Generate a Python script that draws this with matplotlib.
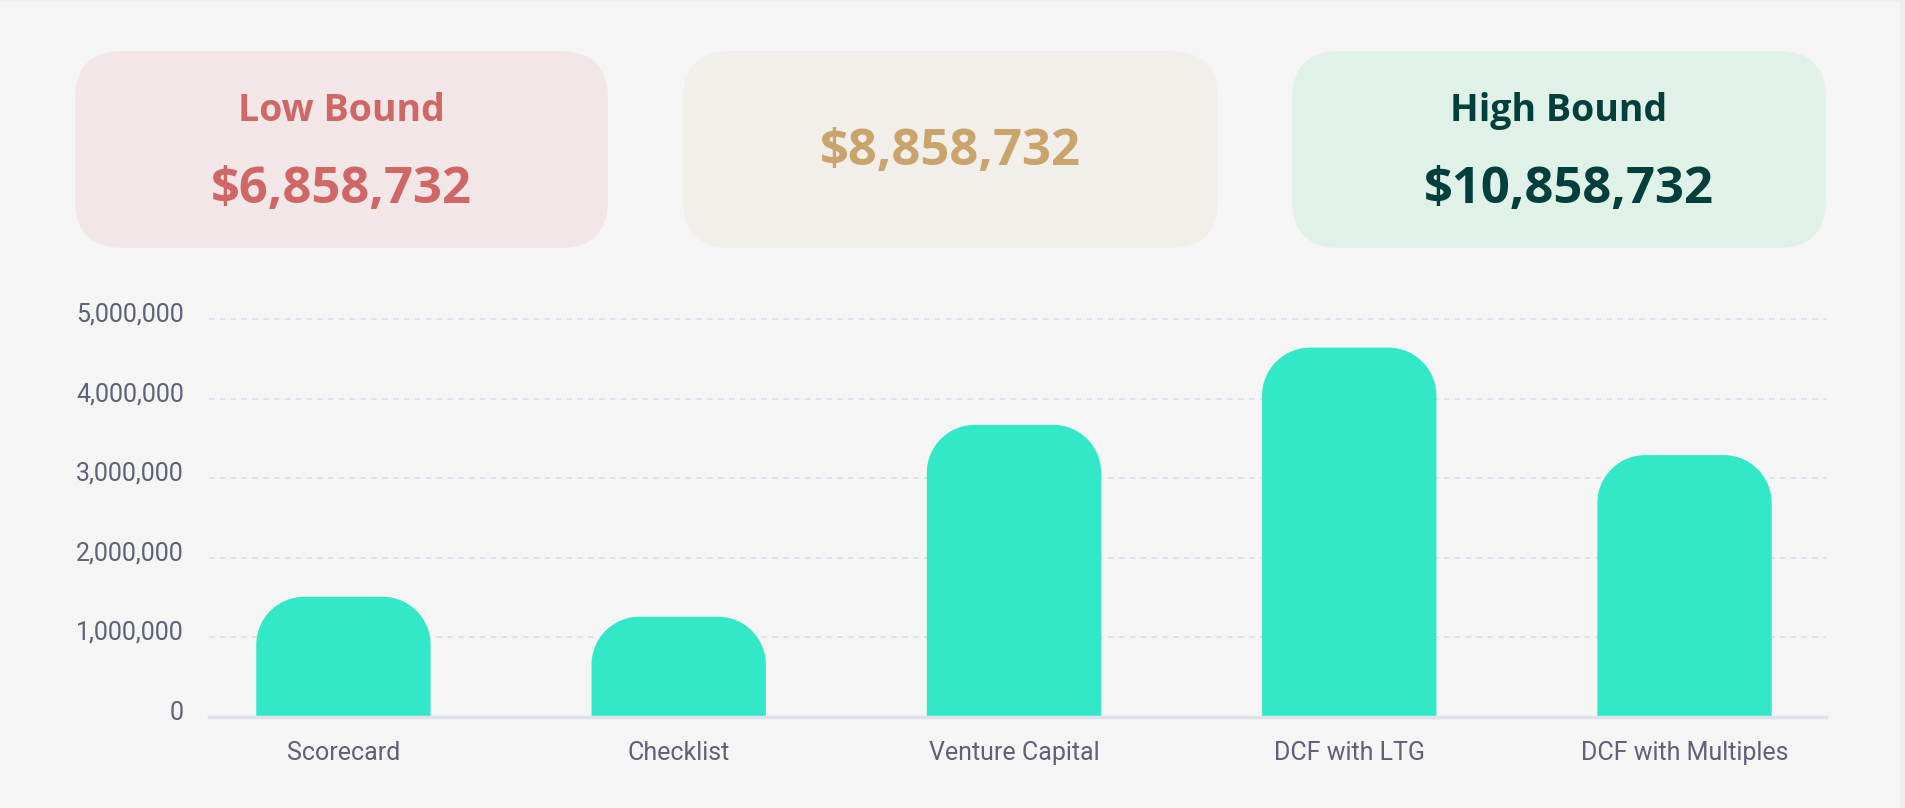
import matplotlib
matplotlib.use("Agg")
import matplotlib.pyplot as plt
from matplotlib.patches import FancyBboxPatch, PathPatch, Rectangle
from matplotlib.path import Path
from matplotlib.ticker import FuncFormatter
import matplotlib.transforms as mtransforms

# data
methods = ["Scorecard", "Checklist", "Venture Capital", "DCF with LTG", "DCF with Multiples"]
valuations = [1510000, 1260000, 3670000, 4640000, 3290000]
yticks = [0, 1000000, 2000000, 3000000, 4000000, 5000000]

card_titles = ["Low Bound", "", "High Bound"]
card_values = ["$6,858,732", "$8,858,732", "$10,858,732"]

bg = "#F5F5F6"
bar_col = "#33E8C6"
lab_col = "#5E6177"
card_bg = ["#F3E6E6", "#F2EFEA", "#E0F2E8"]
card_fg = ["#D06767", "#C9A46C", "#003F3B"]

W, H = 1906, 808
fig = plt.figure(figsize=(W / 100, H / 100), dpi=100)
fig.patch.set_facecolor(bg)

# overlay axes in pixel units for the cards
top = fig.add_axes([0, 0, 1, 1])
top.set_xlim(0, W)
top.set_ylim(H, 0)
top.axis("off")
top.add_patch(Rectangle((1900, 0), 6, H, facecolor="#EDEEF0", edgecolor="none"))
top.add_patch(Rectangle((0, 0), W, 2, facecolor="#EDEEF0", edgecolor="none"))

cards_px = [(75, 608), (683, 1218), (1292, 1826)]
val_shift = [0, 0, 10]
top_px, bot_px = 51, 248
for i, (x0, x1) in enumerate(cards_px):
    box = FancyBboxPatch((x0, top_px), x1 - x0, bot_px - top_px,
                         boxstyle="round,pad=0,rounding_size=48",
                         facecolor=card_bg[i], edgecolor="none")
    top.add_patch(box)
    cx = (x0 + x1) / 2
    if card_titles[i]:
        top.text(cx, 111, card_titles[i], ha="center", va="center",
                 fontsize=27, fontweight="bold", family="Open Sans", color=card_fg[i])
        top.text(cx + val_shift[i], 190, card_values[i], ha="center", va="center",
                 fontsize=36.5, fontweight="bold", family="Open Sans", color=card_fg[i])
    else:
        top.text(cx, 152, card_values[i], ha="center", va="center",
                 fontsize=36.5, fontweight="bold", family="Open Sans", color=card_fg[i])

# bar chart
ax = fig.add_axes([209 / W, 91 / H, (1826 - 209) / W, (717 - 311) / H])
ax.set_facecolor("none")
x = list(range(len(methods)))
ax.set_xlim(-0.401, 4.422)
ax.set_ylim(0, 5100000)

bars = ax.bar(x, valuations, width=0.52, color=bar_col, zorder=3)

# swap the plain rectangles for ones with rounded tops
fig.canvas.draw()
p0 = ax.transData.transform((0, 0))
p1 = ax.transData.transform((1, 1000000))
px_x = p1[0] - p0[0]
px_y = (p1[1] - p0[1]) / 1000000
rad = 48
for b in bars:
    bx, bw, bh = b.get_x(), b.get_width(), b.get_height()
    rx = rad / px_x
    ry = rad / px_y
    k = 0.5523
    verts = [(bx, 0), (bx, bh - ry),
             (bx, bh - ry + k * ry), (bx + rx - k * rx, bh), (bx + rx, bh),
             (bx + bw - rx, bh),
             (bx + bw - rx + k * rx, bh), (bx + bw, bh - ry + k * ry), (bx + bw, bh - ry),
             (bx + bw, 0), (bx, 0)]
    codes = [Path.MOVETO, Path.LINETO,
             Path.CURVE4, Path.CURVE4, Path.CURVE4,
             Path.LINETO,
             Path.CURVE4, Path.CURVE4, Path.CURVE4,
             Path.LINETO, Path.CLOSEPOLY]
    ax.add_patch(PathPatch(Path(verts, codes), facecolor=bar_col, edgecolor="none", zorder=3))
    b.set_visible(False)

for s in ["top", "right", "left"]:
    ax.spines[s].set_visible(False)
ax.spines["bottom"].set_color("#DFE2EB")
ax.spines["bottom"].set_linewidth(2.5)
ax.spines["bottom"].set_zorder(4)

ax.set_yticks(yticks)
ax.yaxis.set_major_formatter(FuncFormatter(lambda v, p: "{:,.0f}".format(v)))
ax.grid(axis="y", color="#DCDFE9", linestyle=(0, (3, 3)), linewidth=1.3, zorder=0)
ax.set_xticks(x)
ax.set_xticklabels(methods)
ax.tick_params(axis="both", length=0, labelsize=18, labelcolor=lab_col)
ax.tick_params(axis="y", pad=18)
ax.tick_params(axis="x", pad=17)
for lab in ax.get_yticklabels() + ax.get_xticklabels():
    lab.set_family("Roboto")

off = mtransforms.ScaledTranslation(0, 7 / 100, fig.dpi_scale_trans)
for lab in ax.get_yticklabels():
    lab.set_transform(lab.get_transform() + off)

fig.savefig("out.png", dpi=100, facecolor=bg)
